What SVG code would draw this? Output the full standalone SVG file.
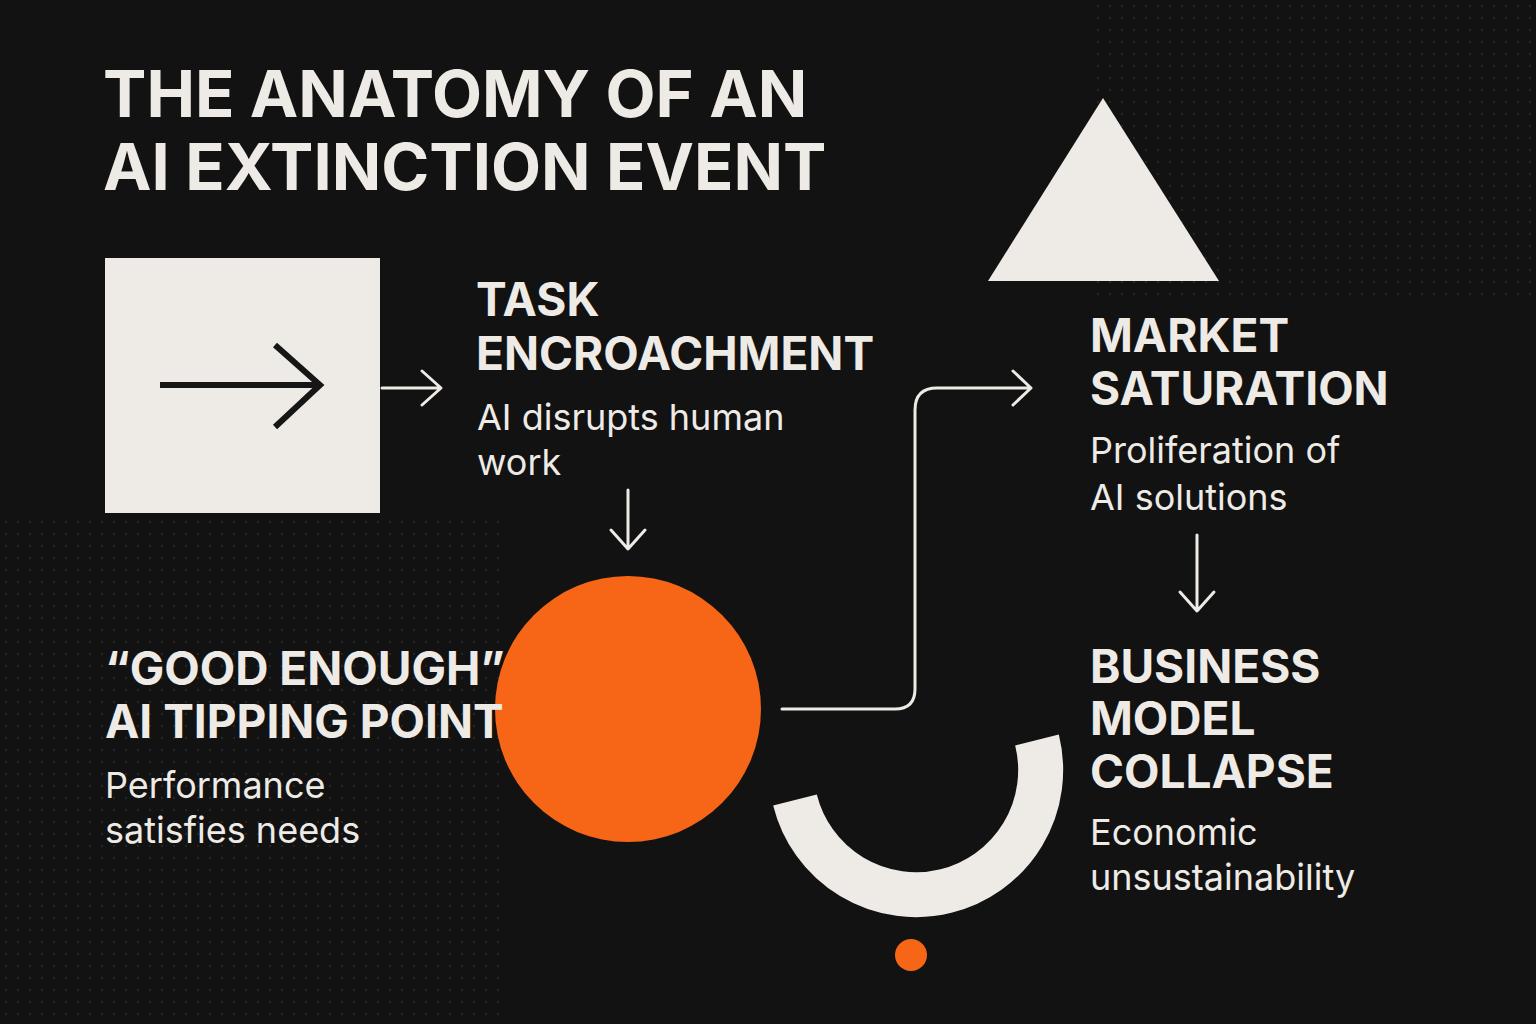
<svg xmlns="http://www.w3.org/2000/svg" width="1536" height="1024" viewBox="0 0 1536 1024">
<style>
.h{font-family:"Inter","Liberation Sans",sans-serif;font-weight:700;fill:#eeebe6}
.b{font-family:"Inter","Liberation Sans",sans-serif;font-weight:400;fill:#eeebe6;font-size:36px}
.c{fill:none;stroke:#eeebe6;stroke-width:3;stroke-linecap:round;stroke-linejoin:round}
</style>
<defs><pattern id="d" width="12" height="12" patternUnits="userSpaceOnUse"><circle cx="6" cy="6" r="1" fill="#2a2a2a"/></pattern></defs>
<rect width="1536" height="1024" fill="#121212"/>
<rect x="1090" y="0" width="446" height="300" fill="url(#d)"/>
<rect x="0" y="520" width="500" height="504" fill="url(#d)"/>
<g id="title" class="h" font-size="65"><text x="103" y="117">THE ANATOMY OF AN</text><text x="103" y="190">AI EXTINCTION EVENT</text></g>
<g id="square"><rect x="105" y="258" width="275" height="255" fill="#eeebe6"/><path d="M160 385H320M275 345L320 385L275 427" fill="none" stroke="#161616" stroke-width="6"/></g>
<g id="task"><text class="h" font-size="46" x="476" y="316">TASK</text><text class="h" font-size="46" x="476" y="370">ENCROACHMENT</text><text class="b" x="477" y="430">AI disrupts human</text><text class="b" x="477" y="475">work</text></g>
<g id="circle"><circle cx="628" cy="709" r="133" fill="#f76617"/></g>
<g id="tipping"><text class="h" font-size="46" x="105" y="685">“GOOD ENOUGH”</text><text class="h" font-size="46" x="105" y="738">AI TIPPING POINT</text><text class="b" x="105" y="798">Performance</text><text class="b" x="105" y="843">satisfies needs</text></g>
<g id="triangle"><polygon points="1103,98 988,281 1219,281" fill="#eeebe6"/></g>
<g id="market"><text class="h" font-size="46" x="1090" y="352">MARKET</text><text class="h" font-size="46" x="1090" y="405">SATURATION</text><text class="b" x="1090" y="463">Proliferation of</text><text class="b" x="1090" y="510">AI solutions</text></g>
<g id="business"><text class="h" font-size="46" x="1090" y="683">BUSINESS</text><text class="h" font-size="46" x="1090" y="735">MODEL</text><text class="h" font-size="46" x="1090" y="788">COLLAPSE</text><text class="b" x="1090" y="845">Economic</text><text class="b" x="1090" y="890">unsustainability</text></g>
<g id="arc"><path d="M1037 740A121 121 0 0 1 795 800" fill="none" stroke="#eeebe6" stroke-width="45"/><circle cx="911" cy="955" r="16" fill="#f76617"/></g>
<g id="connectors">
<path class="c" d="M382 388H440M422 371L441 388L422 405"/>
<path class="c" d="M628 490V548M611 530L628 549L645 530"/>
<path class="c" d="M782 709H895Q915 709 915 689V410Q915 388 937 388H1030M1013 371L1031 388L1013 405"/>
<path class="c" d="M1197 535V610M1180 592L1197 611L1214 592"/>
</g>
</svg>
